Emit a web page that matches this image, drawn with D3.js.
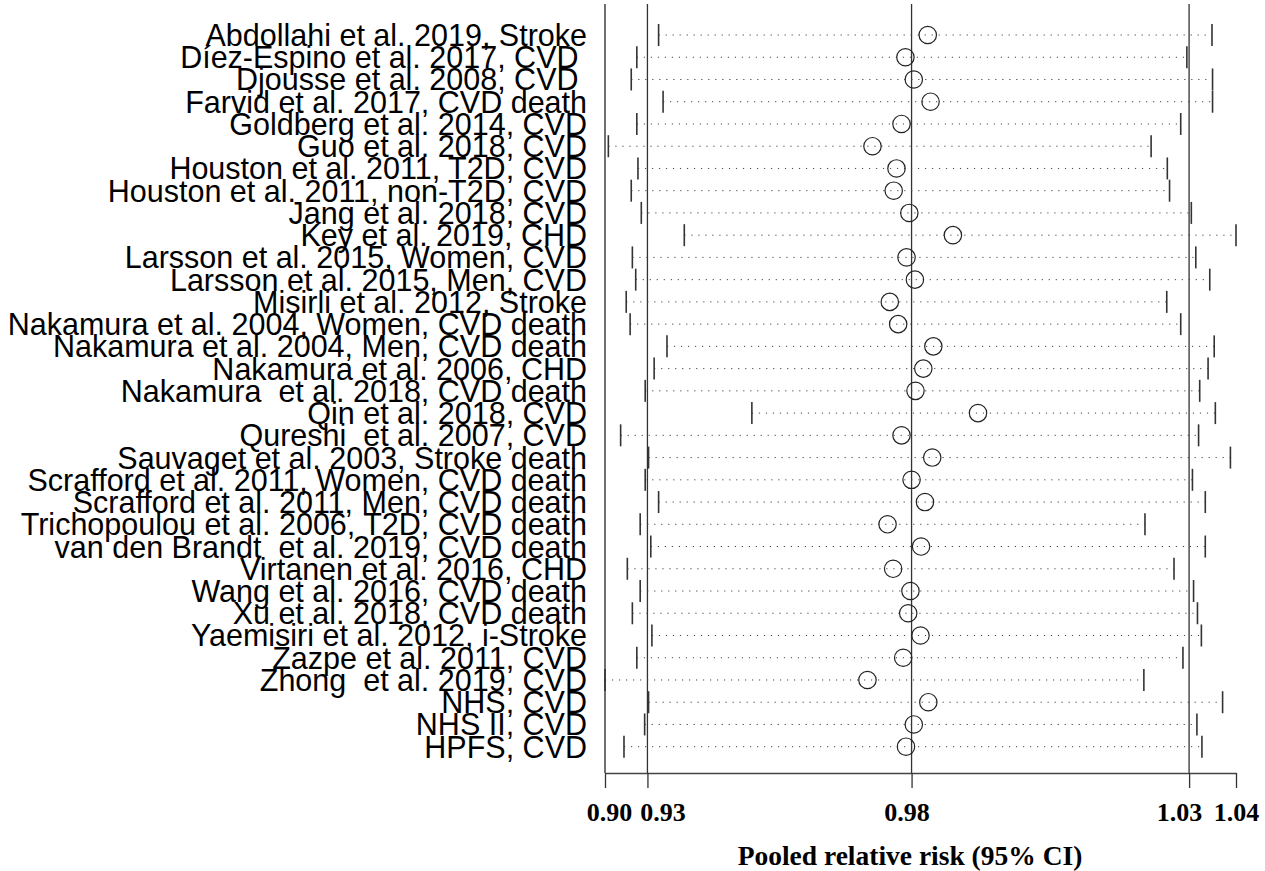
<!DOCTYPE html>
<html>
<head>
<meta charset="utf-8">
<script src="https://cdn.jsdelivr.net/npm/d3@7"></script>
<style>
  body { margin: 0; background: #fff; }
  svg { display: block; }
  .study { font-family: "Liberation Sans", Arial, sans-serif; font-size: 30.5px; fill: #000; white-space: pre; }
  .axis text { font-family: "Liberation Serif", "Times New Roman", serif; font-weight: bold; font-size: 26px; fill: #000; }
  .xtitle { font-family: "Liberation Serif", "Times New Roman", serif; font-weight: bold; font-size: 27.5px; fill: #000; }
</style>
</head>
<body>
<svg id="chart" width="1265" height="871"></svg>
<script>
/******************** data ********************/
// leave-one-out: pooled RR when the named study is omitted
const studies = [
  "Abdollahi et al. 2019, Stroke",
  "Díez-Espino et al. 2017, CVD ",
  "Djousse et al. 2008, CVD ",
  "Farvid et al. 2017, CVD death",
  "Goldberg et al. 2014, CVD",
  "Guo et al. 2018, CVD",
  "Houston et al. 2011, T2D, CVD",
  "Houston et al. 2011, non-T2D, CVD",
  "Jang et al. 2018, CVD",
  "Key et al. 2019, CHD",
  "Larsson et al. 2015, Women, CVD",
  "Larsson et al. 2015, Men, CVD",
  "Misirli et al. 2012, Stroke",
  "Nakamura et al. 2004, Women, CVD death",
  "Nakamura et al. 2004, Men, CVD death",
  "Nakamura et al. 2006, CHD",
  "Nakamura  et al. 2018, CVD death",
  "Qin et al. 2018, CVD",
  "Qureshi  et al. 2007, CVD",
  "Sauvaget et al. 2003, Stroke death",
  "Scrafford et al. 2011, Women, CVD death",
  "Scrafford et al. 2011, Men, CVD death",
  "Trichopoulou et al. 2006, T2D, CVD death",
  "van den Brandt  et al. 2019, CVD death",
  "Virtanen et al. 2016, CHD",
  "Wang et al. 2016, CVD death",
  "Xu et al. 2018, CVD death",
  "Yaemisiri et al. 2012, i-Stroke",
  "Zazpe et al. 2011, CVD",
  "Zhong  et al. 2019, CVD",
  "NHS, CVD",
  "NHS II, CVD",
  "HPFS, CVD"
];
const lowerCI = [
  0.9347, 0.9308, 0.9298, 0.9355, 0.9308, 0.9257, 0.9310, 0.9298, 0.9316, 0.9393, 0.9300,
  0.9306, 0.9289, 0.9296, 0.9362, 0.9339, 0.9323, 0.9514, 0.9279, 0.9329, 0.9323, 0.9347,
  0.9314, 0.9333, 0.9291, 0.9314, 0.9300, 0.9335, 0.9308, 0.9251, 0.9329, 0.9322, 0.9285
];
const estimate = [
  0.9829, 0.9789, 0.9804, 0.9834, 0.9782, 0.9730, 0.9773, 0.9768, 0.9796, 0.9874, 0.9791,
  0.9806, 0.9761, 0.9776, 0.9839, 0.9821, 0.9807, 0.9919, 0.9782, 0.9837, 0.9800, 0.9824,
  0.9757, 0.9817, 0.9767, 0.9798, 0.9794, 0.9816, 0.9785, 0.9721, 0.9830, 0.9804, 0.9790
];
const upperCI = [
  1.0338, 1.0293, 1.0339, 1.0339, 1.0282, 1.0229, 1.0258, 1.0262, 1.0301, 1.0381, 1.0309,
  1.0334, 1.0257, 1.0282, 1.0342, 1.0331, 1.0316, 1.0344, 1.0314, 1.0371, 1.0303, 1.0326,
  1.0218, 1.0326, 1.0270, 1.0305, 1.0312, 1.0319, 1.0286, 1.0216, 1.0357, 1.0311, 1.0320
];
// pooled estimate with all studies: lower, estimate, upper
const pooled = [0.9327, 0.98, 1.0297];
// axis ticks: min lower, pooled lower, pooled estimate, pooled upper, max upper
const tickVals = [0.9251, 0.9327, 0.98, 1.0297, 1.0381];
const tickLabels = ["0.90", "0.93", "0.98", "1.03", "1.04"];

/******************** scales ********************/
const plotTop = 4;
const axisY = 773;
const svg = d3.select("#chart");

const x = d3.scaleLinear()
  .domain([d3.min(lowerCI), d3.max(upperCI)])
  .range([605, 1236]);
const y = d3.scalePoint()
  .domain(d3.range(studies.length))
  .range([35, 746.7]);

/******************** reference lines & frame ********************/
svg.append("line")
  .attr("x1", x.range()[0]).attr("x2", x.range()[0])
  .attr("y1", plotTop).attr("y2", axisY)
  .attr("stroke", "#111").attr("stroke-width", 1.2);

svg.append("g").selectAll("line")
  .data(pooled)
  .join("line")
  .attr("x1", d => x(d)).attr("x2", d => x(d))
  .attr("y1", plotTop).attr("y2", axisY)
  .attr("stroke", "#333").attr("stroke-width", 1.3);

/******************** x axis ********************/
const labelShift = [4, 15, -5, -10, 0]; // nudge crowded labels like the original
const xAxis = d3.axisBottom(x)
  .tickValues(tickVals)
  .tickFormat((d, i) => tickLabels[i])
  .tickSize(15)
  .tickSizeOuter(0)
  .tickPadding(15);
const gx = svg.append("g")
  .attr("class", "axis")
  .attr("transform", `translate(0,${axisY})`)
  .call(xAxis);
gx.select(".domain").attr("stroke", "#444").attr("stroke-width", 1.5);
gx.selectAll(".tick line").attr("stroke", "#333").attr("stroke-width", 1.3);
gx.selectAll(".tick text").attr("dx", (d, i) => labelShift[i]);

svg.append("text")
  .attr("class", "xtitle")
  .attr("x", 910).attr("y", 865)
  .attr("text-anchor", "middle")
  .text("Pooled relative risk (95% CI)");

/******************** rows ********************/
const rows = svg.append("g").selectAll("g")
  .data(studies.map((s, i) => ({ s, i, lo: lowerCI[i], est: estimate[i], hi: upperCI[i] })))
  .join("g");

rows.append("line")
  .attr("x1", d => x(d.lo)).attr("x2", d => x(d.hi))
  .attr("y1", d => y(d.i)).attr("y2", d => y(d.i))
  .attr("stroke", "#444").attr("stroke-width", 1)
  .attr("stroke-dasharray", "1.2,5.8");

rows.selectAll("line.end")
  .data(d => [d.lo, d.hi].map(v => ({ v, i: d.i })))
  .join("line")
  .attr("class", "end")
  .attr("x1", d => x(d.v)).attr("x2", d => x(d.v))
  .attr("y1", d => y(d.i) - 11).attr("y2", d => y(d.i) + 11)
  .attr("stroke", "#333").attr("stroke-width", 1.6);

rows.append("circle")
  .attr("cx", d => x(d.est)).attr("cy", d => y(d.i))
  .attr("r", 8.7)
  .attr("fill", "none")
  .attr("stroke", "#222").attr("stroke-width", 1.2);

rows.append("text")
  .attr("class", "study")
  .attr("x", 587).attr("y", d => y(d.i) + 11)
  .attr("text-anchor", "end")
  .text(d => d.s);
</script>
</body>
</html>
